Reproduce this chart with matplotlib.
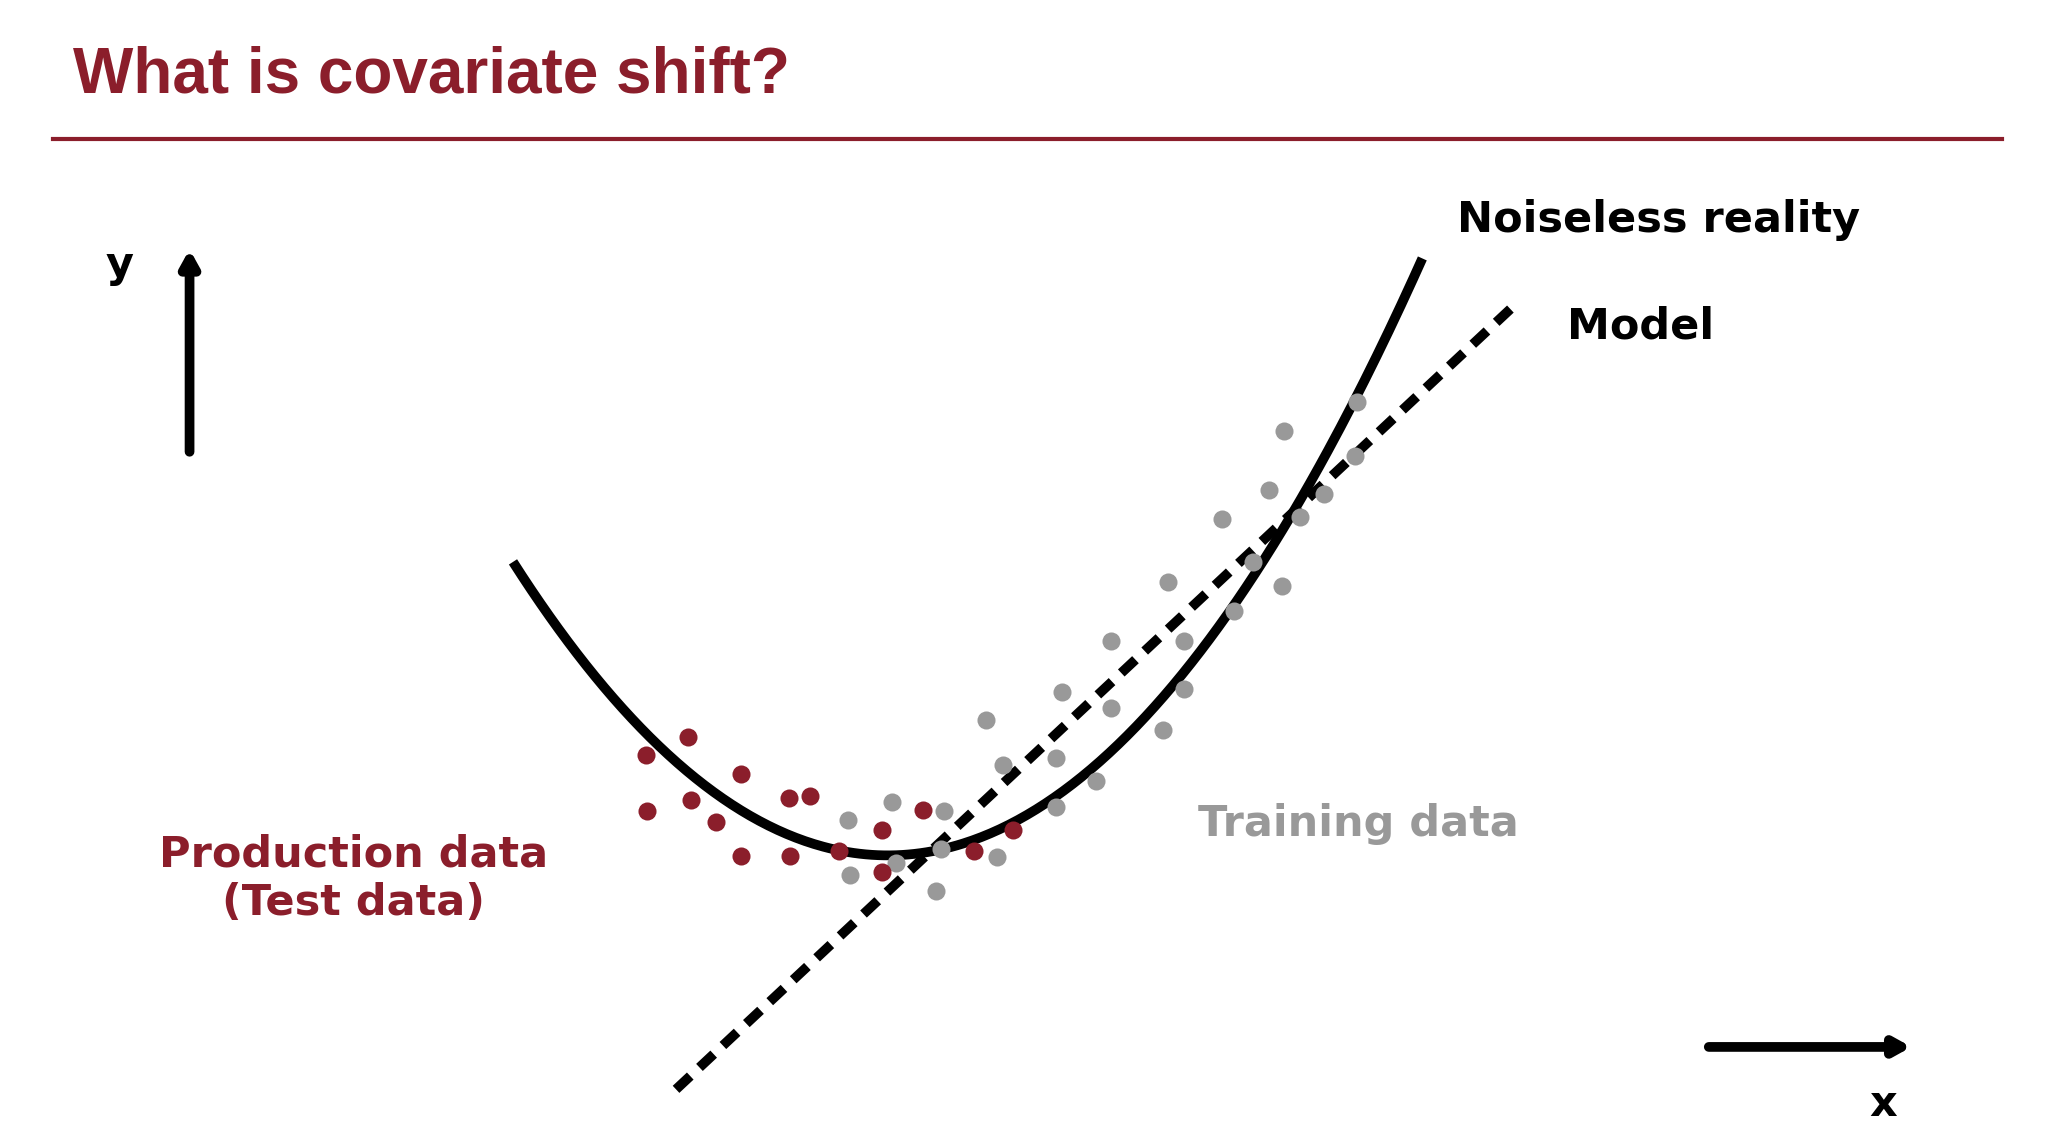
import numpy as np
import matplotlib.pyplot as plt

# reference-image coordinates (1545 x 864 canvas, y grows downward)
W, H = 1545, 864

train_x = [744, 757, 712, 673, 640, 710, 676, 641, 706, 752, 797, 797, 801, 827, 838,
           838, 877, 893, 893, 881, 931, 945, 922, 967, 981, 957, 969, 999, 1022, 1024]
train_y = [543, 577, 612, 605, 619, 641, 651, 660, 672, 647, 609, 572, 522, 589, 484,
           534, 551, 520, 484, 439, 461, 424, 392, 442, 390, 370, 325, 373, 344, 303]

test_x = [487, 519, 559, 488, 521, 540, 559, 595, 611, 596, 633, 665, 696, 665, 735, 764]
test_y = [570, 556, 584, 612, 604, 620, 646, 602, 601, 646, 642, 626, 611, 658, 642, 626]

# points
curve_x = [387, 640, 1073]
curve_y = [424, 643, 195]

model_x = [510, 1145]
model_y = [822, 228]

RED = '#8B1E2B'
GRAY = '#999999'

fig = plt.figure(figsize=(20.48, 11.45), dpi=100)
ax = fig.add_axes([0, 0, 1, 1])
ax.set_xlim(0, W)
ax.set_ylim(H, 0)
ax.axis('off')

ax.text(55, 57, 'What is covariate shift?', color=RED, fontsize=46, fontweight='bold',
        family='Liberation Sans', va='center', ha='left')
ax.plot([40, 1510], [105, 105], color=RED, lw=3)

coef = np.polyfit(curve_x, curve_y, 2)
xs = np.linspace(curve_x[0], curve_x[-1], 300)
ax.plot(xs, np.polyval(coef, xs), color='black', lw=7, solid_capstyle='butt')
ax.plot(model_x, model_y, color='black', lw=7, linestyle=(0, (2, 1.3)))

ax.plot(train_x, train_y, 'o', color=GRAY, ms=13, mec='none')
ax.plot(test_x, test_y, 'o', color=RED, ms=13, mec='none')

ax.annotate('', xy=(143, 186), xytext=(143, 343),
            arrowprops=dict(arrowstyle='-|>,head_width=0.5,head_length=0.9', lw=7, color='black'))
ax.annotate('', xy=(1444, 790), xytext=(1287, 790),
            arrowprops=dict(arrowstyle='-|>,head_width=0.5,head_length=0.9', lw=7, color='black'))

FS = 31
ax.text(90, 200, 'y', fontsize=FS, fontweight='bold', ha='center', va='center')
ax.text(1421, 833, 'x', fontsize=FS, fontweight='bold', ha='center', va='center')
ax.text(1099, 166, 'Noiseless reality', fontsize=FS, fontweight='bold', ha='left', va='center')
ax.text(1182, 246, 'Model', fontsize=FS, fontweight='bold', ha='left', va='center')
ax.text(1025, 622, 'Training data', fontsize=FS, fontweight='bold', color=GRAY, ha='center', va='center')
ax.text(267, 663, 'Production data\n(Test data)', fontsize=FS, fontweight='bold', color=RED,
        ha='center', va='center', linespacing=1.2)

fig.savefig('out.png', dpi=100)
